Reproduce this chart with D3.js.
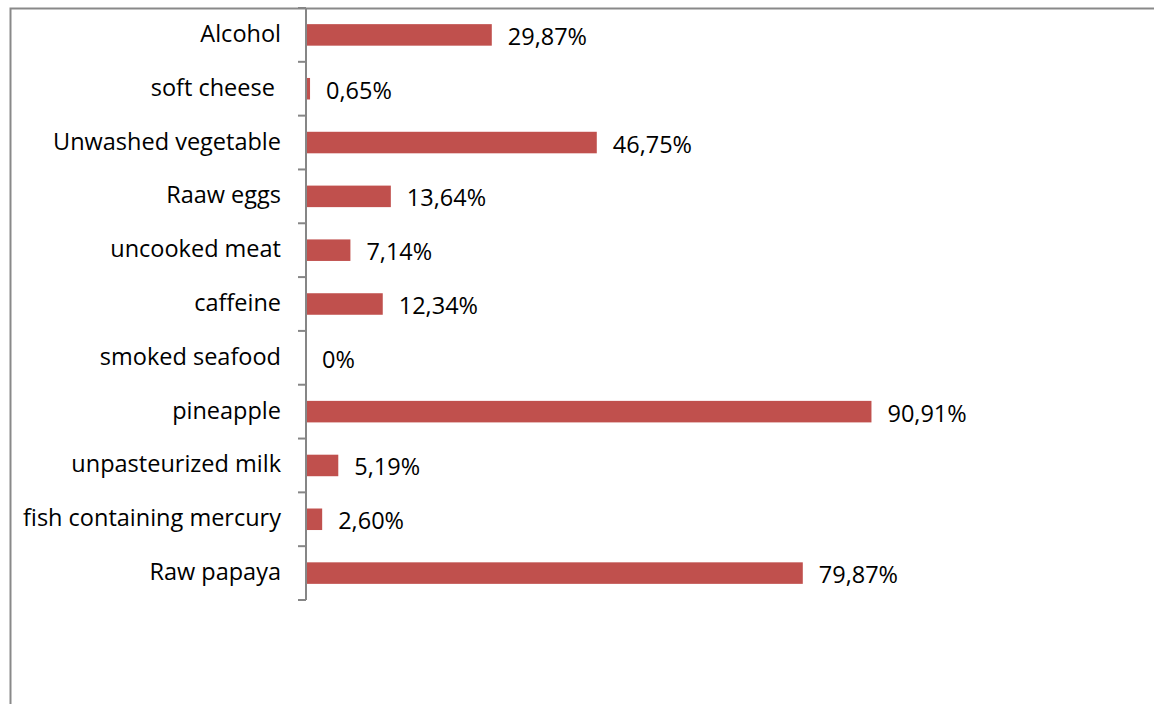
<!DOCTYPE html>
<html>
<head>
<meta charset="utf-8">
<script src="https://cdn.jsdelivr.net/npm/d3@7"></script>
<style>
  html, body { margin: 0; padding: 0; background: #fff; }
  svg { display: block; }
  text { font-family: "Open Sans", "Liberation Sans", sans-serif; }
</style>
</head>
<body>
<svg id="chart" width="1154" height="704"></svg>
<script>
// Foods avoided during pregnancy, share of respondents (%)
const categories = [
  "Alcohol",
  "soft cheese ",
  "Unwashed vegetable",
  "Raaw eggs",
  "uncooked meat",
  "caffeine",
  "smoked seafood",
  "pineapple",
  "unpasteurized milk",
  "fish containing mercury",
  "Raw papaya"
];
const values = [29.87, 0.65, 46.75, 13.64, 7.14, 12.34, 0, 90.91, 5.19, 2.60, 79.87];
const valueLabels = ["29,87%", "0,65%", "46,75%", "13,64%", "7,14%", "12,34%", "0%", "90,91%", "5,19%", "2,60%", "79,87%"];

const svg = d3.select("#chart");
const fontSize = 23.5;

// outer chart frame (top and left edges visible)
svg.append("path")
  .attr("d", "M10.5,712 V8.5 H1160")
  .attr("fill", "none")
  .attr("stroke", "#898989")
  .attr("stroke-width", 2);

const x = d3.scaleLinear().domain([0, 100]).range([306, 928]);
const y = d3.scaleBand().domain(categories).range([8, 600]).padding(0);
const barH = y.bandwidth() * 0.4;

// bars
svg.append("g").selectAll("rect")
  .data(categories)
  .join("rect")
  .attr("x", x(0))
  .attr("y", d => y(d) + (y.bandwidth() - barH) / 2)
  .attr("width", (d, i) => x(values[i]) - x(0))
  .attr("height", barH)
  .attr("fill", "#C0504D");

// value labels
svg.append("g").selectAll("text")
  .data(categories)
  .join("text")
  .attr("x", (d, i) => x(values[i]) + 16)
  .attr("y", d => y(d) + y.bandwidth() / 2 + 1)
  .attr("dominant-baseline", "central")
  .attr("font-size", fontSize)
  .attr("fill", "#000")
  .text((d, i) => valueLabels[i]);

// category axis: vertical line with ticks at band boundaries
const axisG = svg.append("g");
axisG.append("line")
  .attr("x1", x(0)).attr("x2", x(0))
  .attr("y1", y.range()[0]).attr("y2", y.range()[1])
  .attr("stroke", "#868686").attr("stroke-width", 2);
const boundaries = categories.map(c => y(c)).concat([y.range()[1]]);
axisG.selectAll("line.tick")
  .data(boundaries)
  .join("line")
  .attr("class", "tick")
  .attr("x1", x(0) - 8).attr("x2", x(0))
  .attr("y1", d => d).attr("y2", d => d)
  .attr("stroke", "#868686").attr("stroke-width", 2);

// category labels
axisG.selectAll("text")
  .data(categories)
  .join("text")
  .attr("x", x(0) - 25)
  .attr("y", d => y(d) + y.bandwidth() / 2 - 2)
  .attr("dominant-baseline", "central")
  .attr("text-anchor", "end")
  .attr("font-size", fontSize)
  .attr("fill", "#000")
  .style("white-space", "pre")
  .text(d => d);
</script>
</body>
</html>
